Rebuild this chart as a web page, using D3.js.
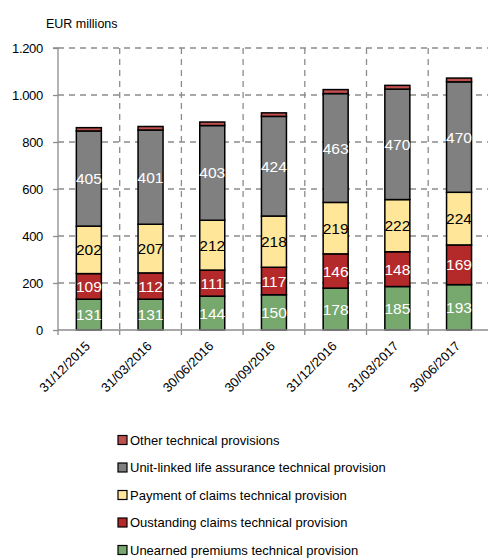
<!DOCTYPE html>
<html>
<head>
<meta charset="utf-8">
<script src="https://cdn.jsdelivr.net/npm/d3@7"></script>
<style>
  html, body { margin: 0; padding: 0; background: #fff; }
  svg { display: block; font-family: "Liberation Sans", Arial, sans-serif; }
</style>
</head>
<body>
<svg id="chart" width="488" height="558"></svg>
<script>
// Quarter-end dates
const dates = ["31/12/2015", "31/03/2016", "30/06/2016", "30/09/2016", "31/12/2016", "31/03/2017", "30/06/2017"];

// Technical provisions by type, EUR millions (stacked bottom to top)
const unearnedPremiums = [131, 131, 144, 150, 178, 185, 193];
const outstandingClaims = [109, 112, 111, 117, 146, 148, 169];
const paymentOfClaims = [202, 207, 212, 218, 219, 222, 224];
const unitLinked = [405, 401, 403, 424, 463, 470, 470];
const otherProvisions = [14, 15, 15, 15, 17, 16, 16];

const yTicks = [0, 200, 400, 600, 800, 1000, 1200];

const series = [
  { name: "Unearned premiums technical provision", values: unearnedPremiums, color: "#77a86d", label: "#fff" },
  { name: "Oustanding claims technical provision", values: outstandingClaims, color: "#b42a2a", label: "#fff" },
  { name: "Payment of claims technical provision", values: paymentOfClaims, color: "#ffe699", label: "#000" },
  { name: "Unit-linked life assurance technical provision", values: unitLinked, color: "#808080", label: "#fff" },
  { name: "Other technical provisions", values: otherProvisions, color: "#c0504d", label: null }
];

const svg = d3.select("#chart");
const margin = { left: 58, top: 48, bottom: 330 };
const plotRight = 58 + 7 * 61.7;

const x = d3.scaleBand().domain(dates).range([margin.left, plotRight]).paddingInner(0).paddingOuter(0);
const y = d3.scaleLinear().domain([0, 1200]).range([margin.bottom, margin.top]);

const rows = dates.map((d, i) => {
  const r = { date: d };
  series.forEach(s => r[s.name] = s.values[i]);
  return r;
});
const stack = d3.stack().keys(series.map(s => s.name));
const layers = stack(rows);

const gridColor = "#8c8c8c";

// Horizontal gridlines
svg.append("g").selectAll("line").data(yTicks.filter(t => t > 0)).join("line")
  .attr("x1", margin.left).attr("x2", 488)
  .attr("y1", d => y(d)).attr("y2", d => y(d))
  .attr("stroke", gridColor).attr("stroke-width", 1.3)
  .attr("stroke-dasharray", "6,5");

// Vertical gridlines at category boundaries
svg.append("g").selectAll("line").data(dates.slice(1)).join("line")
  .attr("x1", d => x(d)).attr("x2", d => x(d))
  .attr("y1", y(1200)).attr("y2", y(0))
  .attr("stroke", gridColor).attr("stroke-width", 1.3)
  .attr("stroke-dasharray", "6,5");

// Y axis
const yAxis = d3.axisLeft(y).tickValues(yTicks).tickSize(5).tickPadding(10)
  .tickFormat(d => d3.format(",")(d).replace(/,/g, "."));
const gy = svg.append("g").attr("transform", `translate(${margin.left},0)`).call(yAxis);
gy.select(".domain").attr("stroke", "#8c8c8c").attr("stroke-width", 1.3).attr("d", `M-5,${y(1200)}H0V${y(0)}`);
gy.selectAll(".tick line").attr("stroke", "#8c8c8c").attr("stroke-width", 1.3);
gy.selectAll(".tick text").attr("font-size", 13).attr("fill", "#000")
  .attr("font-family", "'Liberation Sans', Arial, sans-serif").attr("dy", "0.35em").attr("letter-spacing", "-0.3");

// Bars
const bw = 25;
const barG = svg.append("g");
layers.forEach((layer, li) => {
  const s = series[li];
  barG.append("g").selectAll("rect").data(layer).join("rect")
    .attr("x", d => x(d.data.date) + x.bandwidth() / 2 - bw / 2)
    .attr("width", bw)
    .attr("y", d => y(d[1]))
    .attr("height", d => y(d[0]) - y(d[1]))
    .attr("fill", s.color)
    .attr("stroke", "#000").attr("stroke-width", 1.5);
});

// X axis
const gx = svg.append("g").attr("transform", `translate(0,${y(0)})`);
gx.append("line").attr("x1", margin.left).attr("x2", 488).attr("y1", 0).attr("y2", 0)
  .attr("stroke", "#8c8c8c").attr("stroke-width", 1.3);
gx.selectAll("line.tk").data(dates.slice(1).map(d => x(d)).concat([margin.left])).join("line")
  .attr("class", "tk")
  .attr("x1", d => d).attr("x2", d => d).attr("y1", 0).attr("y2", 5)
  .attr("stroke", "#8c8c8c").attr("stroke-width", 1.3);
gx.selectAll("text").data(dates).join("text")
  .attr("transform", d => `translate(${x(d) + x.bandwidth() / 2 + 2},${17}) rotate(-45)`)
  .attr("text-anchor", "end")
  .attr("font-size", 13)
  .text(d => d);

// Segment value labels
const labelG = svg.append("g");
layers.forEach((layer, li) => {
  const s = series[li];
  if (!s.label) return;
  labelG.append("g").selectAll("text").data(layer).join("text")
    .attr("x", d => x(d.data.date) + x.bandwidth() / 2)
    .attr("y", d => (y(d[0]) + y(d[1])) / 2)
    .attr("dy", "0.36em")
    .attr("text-anchor", "middle")
    .attr("fill", s.label)
    .attr("font-family", "'Liberation Sans Narrow', 'Arial Narrow', 'Liberation Sans', sans-serif")
    .attr("font-size", 15.5)
    .text(d => d[1] - d[0]);
});

// Unit label
svg.append("text").attr("x", 46).attr("y", 28).attr("font-size", 12.5)
  .text("EUR millions");

// Legend (top entry is the top of the stack)
const legend = svg.append("g");
const legendItems = series.slice().reverse();
legendItems.forEach((s, i) => {
  const cy = 440 + i * 27.5;
  legend.append("rect").attr("x", 118).attr("y", cy - 4.5).attr("width", 9).attr("height", 9)
    .attr("fill", s.color).attr("stroke", "#000").attr("stroke-width", 1.2);
  legend.append("text").attr("x", 130).attr("y", cy).attr("dy", "0.36em")
    .attr("font-size", 13).text(s.name);
});
</script>
</body>
</html>
